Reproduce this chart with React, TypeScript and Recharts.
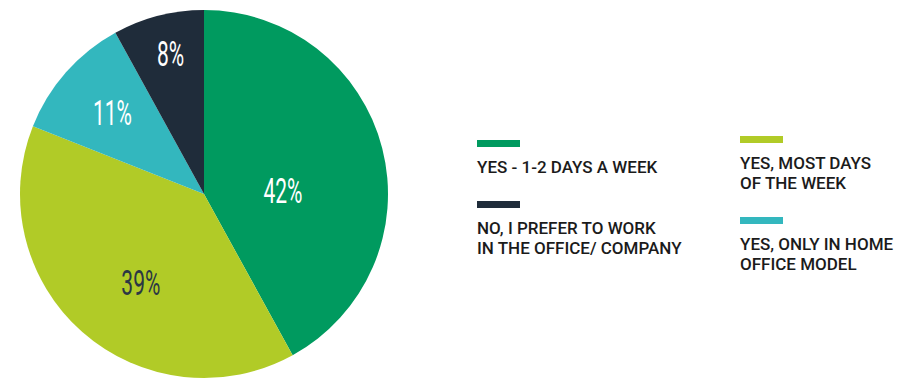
import { PieChart, Pie, Cell, Legend } from 'recharts';

const categories = [
  'YES - 1-2 DAYS A WEEK',
  'YES, MOST DAYS\nOF THE WEEK',
  'YES, ONLY IN HOME\nOFFICE MODEL',
  'NO, I PREFER TO WORK\nIN THE OFFICE/ COMPANY'
];
const shares = [42, 39, 11, 8];
const colors = ['#009a5f', '#b1cb27', '#33b7be', '#1f2c3a'];
const labelColors = ['#ffffff', '#2b3744', '#ffffff', '#ffffff'];

// legend columns (indexes into categories)
const legendColumns = [
  { left: 477, top: 140, items: [0, 3] },
  { left: 740, top: 136, items: [1, 2] }
];

// label nudges: distance from centre and angle shift per slice
const labelSpots = [
  { r: 79, da: -12 },
  { r: 109, da: 6 },
  { r: 122, da: 0 },
  { r: 144, da: -1 }
];

const data = categories.map((name, i) => ({ name, value: shares[i] }));

const RADIAN = Math.PI / 180;

const renderLabel = (props: any) => {
  const { cx, cy, midAngle, index, value } = props;
  const spot = labelSpots[index];
  const a = (midAngle + spot.da) * RADIAN;
  const x = cx + spot.r * Math.cos(-a);
  const y = cy + spot.r * Math.sin(-a);
  return (
    <text
      transform={`translate(${x},${y}) scale(0.6,1)`}
      x={0}
      y={0}
      textAnchor="middle"
      dominantBaseline="central"
      fill={labelColors[index]}
      fontFamily="Roboto"
      fontSize={35}
      fontWeight={400}
    >
      {value}%
    </text>
  );
};

const LegendBlock = () => (
  <div style={{ position: 'relative', width: 910, height: 380 }}>
    {legendColumns.map((col) => (
      <div
        key={col.left}
        style={{
          position: 'absolute',
          left: col.left,
          top: col.top,
          display: 'flex',
          flexDirection: 'column',
          gap: 24
        }}
      >
        {col.items.map((i) => (
          <div key={i}>
            <div style={{ width: 43, height: 7, background: colors[i] }} />
            <div
              style={{
                marginTop: 10,
                whiteSpace: 'pre-line',
                fontFamily: 'Roboto',
                fontWeight: 500,
                fontSize: 17,
                lineHeight: '20px',
                color: '#1b1b1b'
              }}
            >
              {categories[i]}
            </div>
          </div>
        ))}
      </div>
    ))}
  </div>
);

export default function App() {
  return (
    <div style={{ position: 'fixed', left: 0, top: 0, width: 910, height: 380, background: '#fff' }}>
      <PieChart width={910} height={380} margin={{ top: 0, right: 0, bottom: 0, left: 0 }}>
        <Pie
          data={data}
          dataKey="value"
          nameKey="name"
          cx={204}
          cy={194}
          outerRadius={184}
          startAngle={90}
          endAngle={-270}
          stroke="none"
          labelLine={false}
          label={renderLabel}
          isAnimationActive={false}
        >
          {data.map((d, i) => (
            <Cell key={d.name} fill={colors[i]} />
          ))}
        </Pie>
        <Legend
          content={() => <LegendBlock />}
          wrapperStyle={{ position: 'absolute', left: 0, top: 0, width: 910, height: 380 }}
        />
      </PieChart>
    </div>
  );
}
